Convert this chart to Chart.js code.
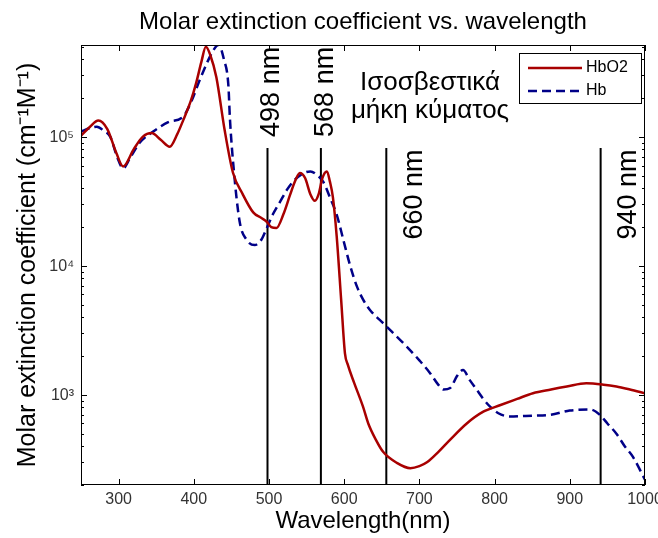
<!DOCTYPE html>
<html>
<head>
<meta charset="utf-8">
<script src="https://cdn.jsdelivr.net/npm/chart.js@4.4.1/dist/chart.umd.min.js"></script>
<style>
  html, body { margin: 0; padding: 0; background: #fff; }
  canvas { display: block; }
</style>
</head>
<body>
<canvas id="chart" width="658" height="538"></canvas>
<script>
// ── DATA ──────────────────────────────────────────────────────────────────────
// wavelength in nm, molar extinction coefficient in cm^-1 M^-1
const hbo2Wl  = [250, 262, 273, 285, 297, 306, 320, 332, 344, 356, 368, 378, 386, 396, 403, 410, 416, 422, 430, 441,
                 452, 465, 479, 490, 497, 503, 510, 519, 528, 535, 541, 548, 555, 561, 566, 571, 577, 581, 585, 590,
                 596, 601, 605, 613, 625, 632, 642, 652, 670, 688, 700, 710, 725, 741, 763, 785, 807, 830, 851, 875,
                 896, 922, 945, 962, 980, 1000];
const hbo2Eps = [1.02e5, 1.2e5, 1.34e5, 1.15e5, 7.5e4, 5.9e4, 8.0e4, 1.0e5, 1.07e5, 9.5e4, 8.4e4, 1.05e5, 1.35e5, 1.9e5, 2.6e5, 3.8e5, 5.0e5, 4.3e5, 2.9e5, 1.13e5,
                 5.3e4, 3.6e4, 2.6e4, 2.35e4, 2.2e4, 2.0e4, 1.97e4, 2.5e4, 3.55e4, 4.6e4, 5.25e4, 4.8e4, 3.6e4, 3.2e4, 3.6e4, 4.8e4, 5.4e4, 4.5e4, 3.4e4, 1.7e4,
                 5.4e3, 2.1e3, 1.7e3, 1.25e3, 8.1e2, 6.0e2, 4.5e2, 3.6e2, 2.97e2, 2.7e2, 2.8e2, 3.0e2, 3.6e2, 4.5e2, 6.0e2, 7.4e2, 8.3e2, 9.3e2, 1.03e3, 1.1e3,
                 1.16e3, 1.23e3, 1.2e3, 1.16e3, 1.1e3, 1.03e3];

const hbWl  = [250, 262, 271, 280, 289, 298, 306, 316, 328, 346, 366, 386, 397, 408, 418, 426, 433, 440, 446, 448,
               453, 461, 470, 481, 490, 497, 505, 515, 524, 532, 545, 555, 565, 572, 581, 590, 599, 608, 617, 625,
               634, 654, 683, 700, 714, 725, 732, 741, 750, 758, 767, 776, 785, 794, 805, 820, 850, 874, 900, 927,
               940, 950, 962, 973, 984, 1000];
const hbEps = [1.1e5, 1.17e5, 1.2e5, 1.12e5, 1.0e5, 7.0e4, 5.7e4, 7.0e4, 9.0e4, 1.1e5, 1.3e5, 1.44e5, 1.9e5, 2.77e5, 3.8e5, 4.7e5, 5.2e5, 4.0e5, 2.5e5, 1.4e5,
               5.7e4, 2.2e4, 1.6e4, 1.45e4, 1.6e4, 1.96e4, 2.5e4, 3.16e4, 3.9e4, 4.5e4, 5.2e4, 5.4e4, 5.0e4, 4.5e4, 3.4e4, 2.5e4, 1.58e4, 1.0e4, 6.9e3, 5.5e3,
               4.57e3, 3.5e3, 2.37e3, 1.85e3, 1.48e3, 1.2e3, 1.1e3, 1.13e3, 1.4e3, 1.56e3, 1.3e3, 1.1e3, 9.3e2, 8.1e2, 7.2e2, 6.8e2, 6.9e2, 7.0e2, 7.55e2, 7.7e2,
               7.0e2, 6.0e2, 5.0e2, 4.0e2, 3.3e2, 2.2e2];

// isosbestic marker lines
const isoWl     = [498, 569, 656, 941];
const isoLabels = ['498 nm', '568 nm', '660 nm', '940 nm'];
const isoTop    = 82000;

const titleText   = 'Molar extinction coefficient vs. wavelength';
const noteLines   = ['Ισοσβεστικά', 'μήκη κύματος'];
const seriesNames = ['HbO2', 'Hb'];

const X_MIN = 250, X_MAX = 1000;
const Y_MIN = 200, Y_MAX = 516000;
const FONT = "'Liberation Sans', Arial, Helvetica, sans-serif";

const SUP = '⁰¹²³⁴⁵⁶⁷⁸⁹';
const sup = n => String(n).split('').map(d => SUP[+d]).join('');
const isDecade = v => { const e = Math.log10(v); return Math.abs(e - Math.round(e)) < 1e-6; };

// ── MARKS ─────────────────────────────────────────────────────────────────────
const curve = (name, xs, ys, color, dash) => ({
  label: name,
  data: xs.map((x, i) => ({ x, y: ys[i] })),
  borderColor: color,
  borderWidth: 2.5,
  borderDash: dash,
  pointRadius: 0,
  fill: false,
  cubicInterpolationMode: 'monotone',
});

const isoSets = isoWl.map(w => ({
  label: '',
  data: [{ x: w, y: Y_MIN }, { x: w, y: isoTop }],
  borderColor: '#000',
  borderWidth: 2,
  pointRadius: 0,
  fill: false,
}));

// ── TITLE, FRAME, INWARD TICKS, ANNOTATIONS, LEGEND ──────────────────────────
const decorPlugin = {
  id: 'decor',
  afterDraw(chart) {
    const { ctx, chartArea: a, scales: { x, y } } = chart;
    ctx.save();

    // title, centred over the axes box
    ctx.fillStyle = '#000';
    ctx.font = `24px ${FONT}`;
    ctx.textAlign = 'center';
    ctx.textBaseline = 'alphabetic';
    ctx.fillText(titleText, (a.left + a.right) / 2, 28.5);

    // box + ticks on all four sides (MATLAB style, pointing in)
    ctx.strokeStyle = '#000';
    ctx.lineWidth = 1;
    ctx.strokeRect(a.left + 0.5, a.top + 0.5, a.right - a.left - 1, a.bottom - a.top - 1);
    ctx.beginPath();
    x.ticks.forEach(t => {
      const px = Math.round(x.getPixelForValue(t.value)) + 0.5;
      ctx.moveTo(px, a.bottom); ctx.lineTo(px, a.bottom - 6);
      ctx.moveTo(px, a.top);    ctx.lineTo(px, a.top + 6);
    });
    for (let e = 2; e <= 5; e++) {
      for (let k = 1; k <= 9; k++) {
        const v = k * Math.pow(10, e);
        if (v < Y_MIN || v > Y_MAX) continue;
        const len = k === 1 ? 6 : 3;
        const py = Math.round(y.getPixelForValue(v)) + 0.5;
        ctx.moveTo(a.left, py);  ctx.lineTo(a.left + len, py);
        ctx.moveTo(a.right, py); ctx.lineTo(a.right - len, py);
      }
    }
    ctx.stroke();

    // rotated wavelength labels next to the marker lines
    const labelDx   = [12, 12, 36, 35];
    const labelBase = [1e5, 1e5, 1.6e4, 1.6e4];
    ctx.font = `27px ${FONT}`;
    ctx.textAlign = 'left';
    isoLabels.forEach((t, i) => {
      ctx.save();
      ctx.translate(x.getPixelForValue(isoWl[i]) + labelDx[i], y.getPixelForValue(labelBase[i]));
      ctx.rotate(-Math.PI / 2);
      ctx.fillText(t, 0, 0);
      ctx.restore();
    });

    // note text
    ctx.font = `26px ${FONT}`;
    ctx.textAlign = 'center';
    ctx.fillText(noteLines[0], 430, 90);
    ctx.fillText(noteLines[1], 430, 118);

    // legend box
    const lx = 519.5, ly = 53.5, lw = 122, lh = 50;
    ctx.fillStyle = '#fff';
    ctx.fillRect(lx, ly, lw, lh);
    ctx.strokeStyle = '#000';
    ctx.lineWidth = 1;
    ctx.strokeRect(lx, ly, lw, lh);
    ctx.font = `16px ${FONT}`;
    ctx.textAlign = 'left';
    ctx.textBaseline = 'middle';
    [68, 91].forEach((rowY, i) => {
      const ds = chart.data.datasets[i];
      ctx.strokeStyle = ds.borderColor;
      ctx.lineWidth = ds.borderWidth;
      ctx.setLineDash(ds.borderDash || []);
      ctx.beginPath();
      ctx.moveTo(528, rowY); ctx.lineTo(582, rowY);
      ctx.stroke();
      ctx.setLineDash([]);
      ctx.fillStyle = '#000';
      ctx.fillText(ds.label, 586, rowY);
    });

    ctx.restore();
  }
};

new Chart(document.getElementById('chart'), {
  type: 'line',
  data: {
    datasets: [
      curve(seriesNames[0], hbo2Wl, hbo2Eps, '#a80000', []),
      curve(seriesNames[1], hbWl, hbEps, '#000088', [9, 5]),
      ...isoSets,
    ],
  },
  options: {
    responsive: false,
    animation: false,
    devicePixelRatio: 1,
    layout: { padding: { left: 0, right: 13, top: 45, bottom: 0 } },
    plugins: {
      legend: { display: false },
      tooltip: { enabled: false },
      title: { display: false },
    },
    scales: {
      x: {
        type: 'linear',
        min: X_MIN,
        max: X_MAX,
        grid: { display: false, drawTicks: false },
        border: { display: false },
        ticks: {
          stepSize: 100,
          includeBounds: false,
          autoSkip: false,
          maxRotation: 0,
          padding: 5,
          color: '#333',
          font: { family: FONT, size: 16 },
          callback: v => String(v),
        },
        title: {
          display: true,
          text: 'Wavelength(nm)',
          color: '#000',
          font: { family: FONT, size: 24 },
          padding: { top: 0, bottom: 2 },
        },
        afterFit(s) { s.height = 53; s.paddingLeft = 0; s.paddingRight = 0; },
      },
      y: {
        type: 'logarithmic',
        min: Y_MIN,
        max: Y_MAX,
        grid: { display: false, drawTicks: false },
        border: { display: false },
        ticks: {
          autoSkip: false,
          padding: 7,
          labelOffset: 1,
          color: '#333',
          font: { family: FONT, size: 16 },
          callback: v => isDecade(v) ? '10' + sup(Math.round(Math.log10(v))) : '',
        },
        title: {
          display: true,
          text: 'Molar extinction coefficient (cm⁻¹M⁻¹)',
          color: '#000',
          font: { family: FONT, size: 25 },
          padding: { top: 13, bottom: 0 },
        },
        afterFit(s) { s.width = 81; s.paddingTop = 0; s.paddingBottom = 0; },
      },
    },
  },
  plugins: [decorPlugin],
});
</script>
</body>
</html>
